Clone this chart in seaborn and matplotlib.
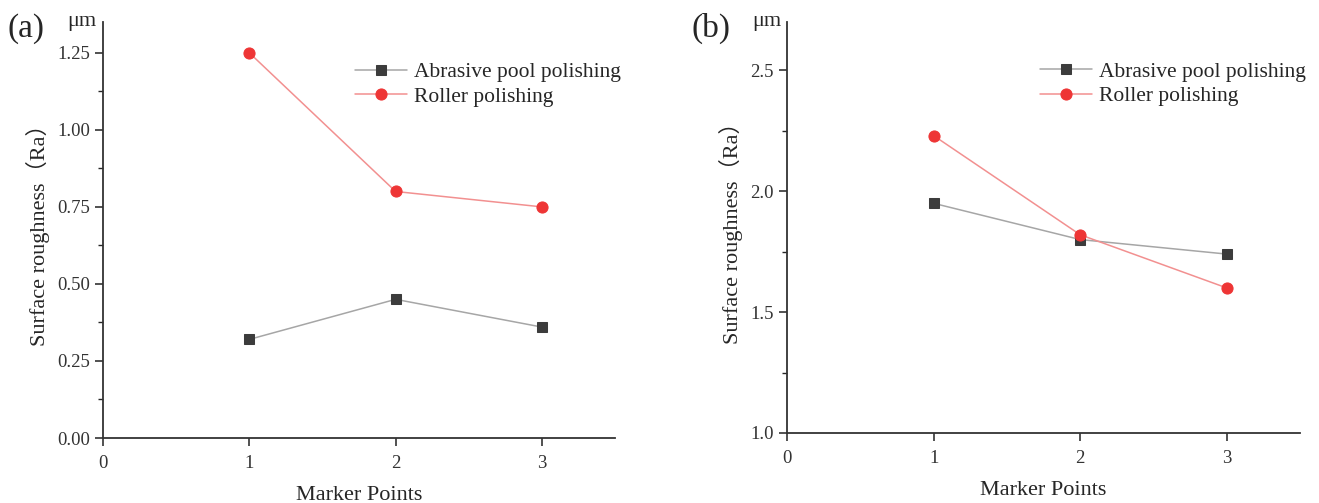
import pandas as pd
import seaborn as sns
import matplotlib.pyplot as plt
from matplotlib.ticker import MultipleLocator

# marker points and surface roughness readings (um)
points = [1, 2, 3]
abrasive_a = [0.32, 0.45, 0.36]
roller_a = [1.25, 0.80, 0.75]
abrasive_b = [1.95, 1.80, 1.74]
roller_b = [2.23, 1.82, 1.60]

panel_labels = ['(a)', '(b)']
series_names = ['Abrasive pool polishing', 'Roller polishing']

sns.set_style('ticks')
plt.rcParams['font.family'] = ['Liberation Serif', 'Noto Sans CJK SC']
plt.rcParams['axes.linewidth'] = 1.3
plt.rcParams['axes.edgecolor'] = '#333333'

fig = plt.figure(figsize=(13.19, 5.03), dpi=100)
ax_a = fig.add_axes([0.0781, 0.1292, 0.3882, 0.8271])
ax_b = fig.add_axes([0.5967, 0.1392, 0.3889, 0.8171])

panels = [
    (ax_a, abrasive_a, roller_a, (0, 1.35), 0.25, 0.125, '{:.2f}'),
    (ax_b, abrasive_b, roller_b, (1.0, 2.7), 0.5, 0.25, '{:.1f}'),
]

for (ax, abr, rol, ylim, major, minor, fmt), lab in zip(panels, panel_labels):
    df = pd.DataFrame({'Marker Points': points * 2,
                       'Ra': abr + rol,
                       'method': [series_names[0]] * 3 + [series_names[1]] * 3})
    sns.lineplot(data=df[df.method == series_names[0]], x='Marker Points', y='Ra',
                 ax=ax, color='#a6a6a6', lw=1.1, marker='s', ms=7,
                 markerfacecolor='#3c3c3c', markeredgecolor='#3c3c3c',
                 label=series_names[0])
    sns.lineplot(data=df[df.method == series_names[1]], x='Marker Points', y='Ra',
                 ax=ax, color='#f29090', lw=1.1, marker='o', ms=8,
                 markerfacecolor='#ee3535', markeredgecolor='#ee3535',
                 label=series_names[1])
    ax.set_xlim(0, 3.5)
    ax.set_ylim(*ylim)
    ax.set_xticks([0, 1, 2, 3])
    ax.yaxis.set_major_locator(MultipleLocator(major))
    ax.yaxis.set_minor_locator(MultipleLocator(minor))
    ax.set_yticklabels([fmt.format(t) for t in ax.get_yticks()])
    ax.set_ylim(*ylim)
    ax.tick_params(axis='both', which='major', direction='out', length=6,
                   width=1.2, labelsize=13.5, colors='#333333')
    ax.tick_params(axis='x', which='major', pad=6)
    ax.tick_params(axis='y', which='minor', direction='out', length=3.5, width=1.0)
    sns.despine(ax=ax)
    ax.set_xlabel('Marker Points', fontsize=16, labelpad=10)
    ax.set_ylabel('Surface roughness（Ra）', fontsize=16, labelpad=5)
    ax.legend(loc='upper right', bbox_to_anchor=(1.05, 0.95), frameon=False,
              fontsize=15.5, handlelength=2.4, handletextpad=0.35, labelspacing=0.2)
    ax.text(-0.012, 1.0, 'μm', transform=ax.transAxes, ha='right', va='center',
            fontsize=16)
    ax.text(-0.187, 0.985, lab, transform=ax.transAxes, ha='left', va='center',
            fontsize=24)

fig.savefig('out.png', dpi=100)
